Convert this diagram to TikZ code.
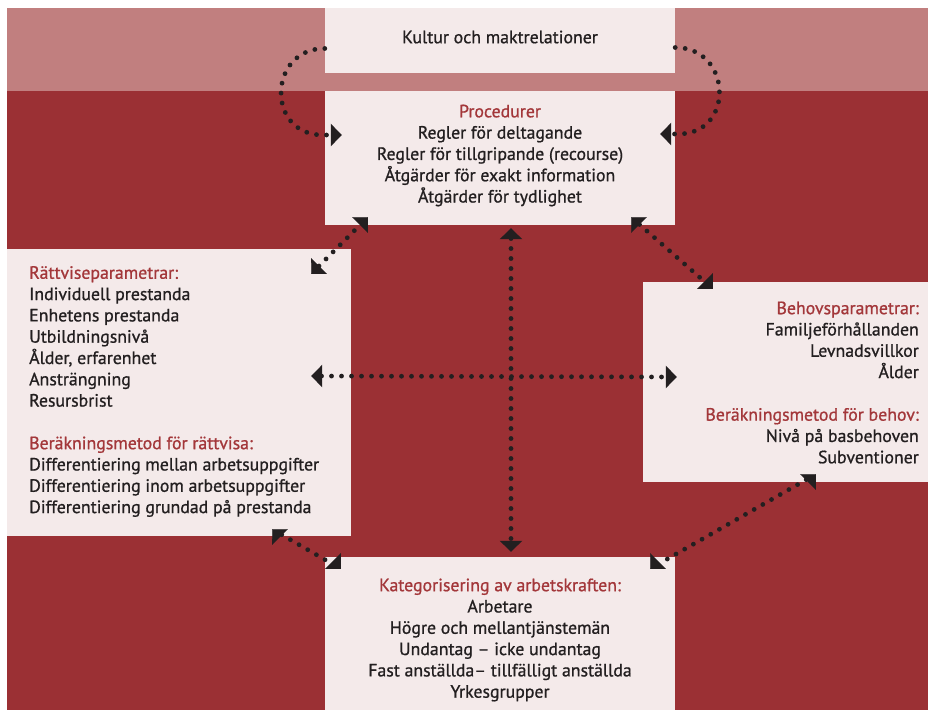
\documentclass[tikz,border=0pt]{standalone}
\usepackage{fontspec}
\setmainfont{PT Sans}[BoldFont={PT Sans},BoldFeatures={FakeBold=0.9}]
\usetikzlibrary{arrows.meta}
\definecolor{bandc}{HTML}{C17F7F}
\definecolor{darkc}{HTML}{9B3034}
\definecolor{boxc}{HTML}{F4EAEA}
\definecolor{titlec}{HTML}{A3373A}
\definecolor{ink}{HTML}{231F20}
\tikzset{
  box/.style={fill=boxc, draw=none, inner sep=0pt, anchor=center},
  txt/.style={text=ink, inner sep=0pt, font=\fontsize{17.8}{21.3}\selectfont\bfseries},
  dotline/.style={draw=ink, line width=4.8pt, line cap=round, dash pattern=on 0pt off 10pt},
  tip/.style={-{Triangle[length=11pt,width=22pt]}, draw=ink, fill=ink, line width=0.1pt},
  dtip/.style={{Triangle[length=11pt,width=22pt]}-{Triangle[length=11pt,width=22pt]}},
  stip/.style={-{Triangle[length=11pt,width=22pt]}},
}
\newcommand{\ttl}[1]{\textcolor{titlec}{#1}}
\begin{document}
\begin{tikzpicture}[x=1pt,y=-1pt]
\useasboundingbox (0,0) rectangle (931,713);
% background bands
\fill[bandc] (7,8) rectangle (928,91);
\fill[darkc] (7,91) rectangle (928,710);
% boxes
\node[box, minimum width=350pt, minimum height=65pt] (kultur) at (500,40.5) {};
\node[box, minimum width=350pt, minimum height=134pt] (proc) at (500,158) {};
\node[box, minimum width=344pt, minimum height=287pt] (ratt) at (179,392.5) {};
\node[box, minimum width=285pt, minimum height=200pt] (behov) at (785.5,382) {};
\node[box, minimum width=350pt, minimum height=153pt] (kat) at (500,633.5) {};
% texts
\node[txt] (kulturt) at (500,37) {Kultur och maktrelationer};
\node[txt, align=center] (proct) at (500,155.5) {\ttl{Procedurer}\\Regler för deltagande\\Regler för tillgripande (recourse)\\Åtgärder för exakt information\\Åtgärder för tydlighet};
\node[txt, align=left, anchor=west] (rattt) at (29,391.5) {\ttl{Rättviseparametrar:}\\Individuell prestanda\\Enhetens prestanda\\Utbildningsnivå\\Ålder, erfarenhet\\Ansträngning\\Resursbrist\\[21.3pt]\ttl{Beräkningsmetod för rättvisa:}\\Differentiering mellan arbetsuppgifter\\Differentiering inom arbetsuppgifter\\Differentiering grundad på prestanda};
\node[txt, align=right, anchor=east] (behovt) at (919,382.5) {\ttl{Behovsparametrar:}\\Familjeförhållanden\\Levnadsvillkor\\Ålder\\[21.3pt]\ttl{Beräkningsmetod för behov:}\\Nivå på basbehoven\\Subventioner};
\node[txt, align=center] (katt) at (500,640) {\ttl{Kategorisering av arbetskraften:}\\Arbetare\\Högre och mellantjänstemän\\Undantag – icke undantag\\Fast anställda– tillfälligt anställda\\Yrkesgrupper};
% connector end points
\coordinate (lk) at ([yshift=-8pt]kultur.west);
\coordinate (lm) at ([shift={(-2pt,23pt)}]proc.west);
\coordinate (lp) at ([shift={(17pt,23pt)}]proc.west);
\coordinate (rk) at ([yshift=-7pt]kultur.east);
\coordinate (rm) at ([shift={(3pt,24pt)}]proc.east);
\coordinate (rp) at ([shift={(-15pt,24pt)}]proc.east);
\coordinate (hl) at ([shift={(-40pt,16.5pt)}]ratt.east);
\coordinate (hr) at ([shift={(34pt,5pt)}]behov.west);
\coordinate (vt) at ([shift={(11pt,-3pt)}]proc.south);
\coordinate (vb) at ([shift={(11pt,5pt)}]kat.north);
\coordinate (d1a) at ([shift={(-40pt,-25pt)}]ratt.north east);
\coordinate (d1b) at ([shift={(43pt,8pt)}]proc.south west);
\coordinate (d2a) at ([shift={(-44pt,8pt)}]proc.south east);
\coordinate (d2b) at ([shift={(70pt,-7pt)}]behov.north west);
\coordinate (d3a) at ([shift={(-79pt,7pt)}]ratt.south east);
\coordinate (d3b) at ([shift={(16pt,-12pt)}]kat.north west);
\coordinate (d4a) at ([shift={(173pt,8pt)}]behov.south west);
\coordinate (d4b) at ([shift={(-25pt,-12pt)}]kat.north east);
% loops from Kultur to Procedurer
\draw[dotline, stip] (lk) .. controls +(-57pt,0pt) and +(-57pt,0pt) .. (lm) -- (lp);
\draw[dotline, stip] (rk) .. controls +(57pt,0pt) and +(57pt,0pt) .. (rm) -- (rp);
% straight double arrows
\draw[dotline, dtip] (hl) -- (hr);
\draw[dotline, dtip] (vt) -- (vb);
% diagonal connectors (heads drawn at 45 degrees)
\draw[dotline, shorten <=11pt, shorten >=11pt] (d1a) -- (d1b);
\draw[dotline, shorten <=11pt, shorten >=11pt] (d2a) -- (d2b);
\draw[dotline, shorten <=11pt, shorten >=11pt] (d3a) -- (d3b);
\draw[dotline, shorten <=11pt, shorten >=11pt] (d4a) -- (d4b);
\draw[tip] (d1a) ++(1pt,1pt) -- (d1a);
\draw[tip] (d1b) ++(-1pt,-1pt) -- (d1b);
\draw[tip] (d2a) ++(1pt,-1pt) -- (d2a);
\draw[tip] (d2b) ++(-1pt,1pt) -- (d2b);
\draw[tip] (d3a) ++(1pt,-1pt) -- (d3a);
\draw[tip] (d3b) ++(-1pt,1pt) -- (d3b);
\draw[tip] (d4a) ++(-1pt,-1pt) -- (d4a);
\draw[tip] (d4b) ++(1pt,1pt) -- (d4b);
\end{tikzpicture}
\end{document}
